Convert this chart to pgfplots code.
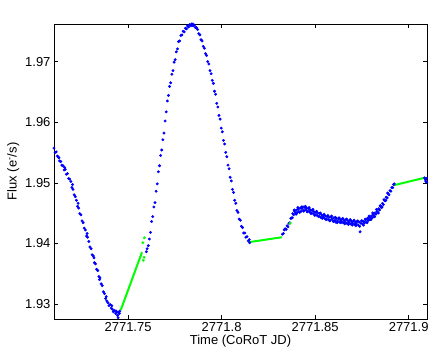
\documentclass[border=0pt]{standalone}
\usepackage{pgfplots}
\pgfplotsset{compat=1.18}
\usepackage{fontspec}
\setmainfont{Liberation Sans}
\definecolor{mgreen}{rgb}{0,1,0}
\definecolor{mblue}{rgb}{0,0,1}

\begin{document}
\begin{tikzpicture}
\begin{axis}[
  name=ax,
  scale only axis,
  width=373pt, height=295pt,
  xmin=0.7104, xmax=0.9098,
  ymin=1.9275, ymax=1.9762,
  xtick={0.75,0.8,0.85,0.9},
  xticklabels={2771.75,2771.8,2771.85,2771.9},
  ytick={1.93,1.94,1.95,1.96,1.97},
  yticklabels={1.93,1.94,1.95,1.96,1.97},
  tick align=inside,
  major tick length=4pt,
  axis line style={line width=0.6pt},
  every tick/.style={black, line width=0.4pt},
  ticklabel style={font=\fontsize{13}{15}\selectfont},
  /pgf/number format/assume math mode=true,
  xlabel={Time (CoRoT JD)},
  ylabel={Flux (e\textsuperscript{-}/s)},
  label style={font=\fontsize{13}{15}\selectfont},
  xlabel style={yshift=4pt},
  ylabel style={yshift=-1pt},
  clip=false,
]
% blue photometry points
\addplot[only marks, mark=*, mark size=1.25pt, mblue] table {
0.7104 1.9557
0.7110 1.9550
0.7116 1.9551
0.7122 1.9544
0.7128 1.9542
0.7131 1.9541
0.7134 1.9536
0.7140 1.9535
0.7146 1.9529
0.7152 1.9528
0.7158 1.9521
0.7161 1.9525
0.7164 1.9522
0.7170 1.9514
0.7176 1.9515
0.7182 1.9507
0.7188 1.9506
0.7194 1.9502
0.7200 1.9492
0.7203 1.9497
0.7206 1.9489
0.7212 1.9480
0.7218 1.9477
0.7224 1.9471
0.7230 1.9461
0.7233 1.9466
0.7236 1.9458
0.7242 1.9449
0.7248 1.9447
0.7254 1.9437
0.7260 1.9434
0.7266 1.9425
0.7272 1.9422
0.7278 1.9412
0.7281 1.9416
0.7284 1.9410
0.7290 1.9403
0.7296 1.9394
0.7302 1.9391
0.7308 1.9381
0.7314 1.9379
0.7318 1.9376
0.7320 1.9368
0.7326 1.9366
0.7332 1.9357
0.7338 1.9355
0.7344 1.9345
0.7347 1.9340
0.7350 1.9343
0.7356 1.9333
0.7362 1.9330
0.7368 1.9320
0.7374 1.9317
0.7380 1.9309
0.7383 1.9312
0.7386 1.9305
0.7392 1.9302
0.7398 1.9297
0.7404 1.9299
0.7410 1.9293
0.7413 1.9297
0.7416 1.9291
0.7422 1.9287
0.7428 1.9289
0.7434 1.9284
0.7437 1.9288
0.7440 1.9286
0.7444 1.9281
0.7447 1.9277
0.7450 1.9286
0.7453 1.9284
0.7456 1.9288
0.7598 1.9386
0.7602 1.9391
0.7608 1.9396
0.7614 1.9407
0.7620 1.9418
0.7626 1.9436
0.7632 1.9444
0.7638 1.9460
0.7644 1.9467
0.7650 1.9486
0.7656 1.9498
0.7662 1.9518
0.7668 1.9528
0.7674 1.9545
0.7680 1.9554
0.7686 1.9571
0.7692 1.9582
0.7698 1.9602
0.7704 1.9617
0.7710 1.9635
0.7716 1.9644
0.7722 1.9659
0.7728 1.9665
0.7734 1.9679
0.7740 1.9685
0.7746 1.9699
0.7752 1.9703
0.7758 1.9716
0.7764 1.9721
0.7770 1.9733
0.7776 1.9734
0.7782 1.9743
0.7788 1.9744
0.7794 1.9750
0.7800 1.9749
0.7806 1.9755
0.7812 1.9754
0.7818 1.9759
0.7824 1.9757
0.7830 1.9761
0.7836 1.9759
0.7840 1.9762
0.7842 1.9760
0.7846 1.9762
0.7848 1.9759
0.7854 1.9760
0.7860 1.9756
0.7866 1.9756
0.7872 1.9753
0.7878 1.9746
0.7884 1.9744
0.7890 1.9736
0.7896 1.9734
0.7902 1.9725
0.7908 1.9722
0.7914 1.9713
0.7920 1.9710
0.7926 1.9700
0.7932 1.9696
0.7938 1.9685
0.7944 1.9680
0.7950 1.9669
0.7956 1.9664
0.7962 1.9651
0.7968 1.9646
0.7974 1.9631
0.7980 1.9625
0.7986 1.9611
0.7992 1.9605
0.7998 1.9590
0.8004 1.9584
0.8010 1.9570
0.8016 1.9564
0.8022 1.9550
0.8028 1.9543
0.8034 1.9529
0.8040 1.9523
0.8046 1.9509
0.8052 1.9503
0.8058 1.9489
0.8064 1.9484
0.8070 1.9471
0.8076 1.9466
0.8082 1.9454
0.8088 1.9451
0.8094 1.9440
0.8100 1.9438
0.8106 1.9428
0.8112 1.9426
0.8118 1.9417
0.8124 1.9417
0.8130 1.9410
0.8136 1.9411
0.8142 1.9404
0.8148 1.9406
0.8150 1.9401
0.8325 1.9415
0.8330 1.9416
0.8335 1.9422
0.8340 1.9424
0.8345 1.9423
0.8350 1.9429
0.8355 1.9427
0.8360 1.9433
0.8365 1.9434
0.8370 1.9441
0.8375 1.9442
0.8378 1.9442
0.8380 1.9449
0.8385 1.9447
0.8388 1.9455
0.8390 1.9453
0.8395 1.9450
0.8398 1.9448
0.8400 1.9455
0.8405 1.9451
0.8408 1.9459
0.8410 1.9456
0.8415 1.9452
0.8418 1.9451
0.8420 1.9458
0.8425 1.9453
0.8428 1.9460
0.8430 1.9457
0.8435 1.9460
0.8438 1.9453
0.8440 1.9454
0.8445 1.9459
0.8448 1.9461
0.8450 1.9455
0.8455 1.9458
0.8458 1.9452
0.8460 1.9453
0.8465 1.9457
0.8468 1.9459
0.8470 1.9452
0.8475 1.9455
0.8478 1.9449
0.8480 1.9450
0.8485 1.9454
0.8488 1.9456
0.8490 1.9449
0.8495 1.9452
0.8498 1.9446
0.8500 1.9447
0.8505 1.9451
0.8508 1.9453
0.8510 1.9446
0.8515 1.9450
0.8518 1.9444
0.8520 1.9445
0.8525 1.9449
0.8528 1.9450
0.8530 1.9443
0.8535 1.9447
0.8538 1.9441
0.8540 1.9443
0.8545 1.9446
0.8548 1.9448
0.8550 1.9441
0.8555 1.9445
0.8558 1.9439
0.8560 1.9440
0.8565 1.9444
0.8568 1.9446
0.8570 1.9439
0.8575 1.9443
0.8578 1.9437
0.8580 1.9438
0.8585 1.9443
0.8588 1.9445
0.8590 1.9440
0.8595 1.9437
0.8598 1.9436
0.8600 1.9442
0.8605 1.9438
0.8608 1.9443
0.8610 1.9435
0.8615 1.9441
0.8618 1.9434
0.8620 1.9437
0.8625 1.9441
0.8628 1.9442
0.8630 1.9435
0.8635 1.9439
0.8638 1.9434
0.8640 1.9436
0.8645 1.9440
0.8648 1.9441
0.8650 1.9434
0.8655 1.9438
0.8658 1.9432
0.8660 1.9435
0.8665 1.9439
0.8668 1.9440
0.8670 1.9433
0.8675 1.9437
0.8678 1.9431
0.8680 1.9434
0.8685 1.9438
0.8688 1.9439
0.8690 1.9432
0.8695 1.9436
0.8698 1.9430
0.8700 1.9433
0.8705 1.9437
0.8708 1.9438
0.8710 1.9431
0.8715 1.9435
0.8718 1.9429
0.8720 1.9432
0.8725 1.9436
0.8728 1.9437
0.8730 1.9430
0.8735 1.9435
0.8738 1.9428
0.8740 1.9419
0.8745 1.9433
0.8748 1.9437
0.8750 1.9437
0.8755 1.9432
0.8758 1.9430
0.8760 1.9436
0.8765 1.9434
0.8768 1.9440
0.8770 1.9439
0.8775 1.9435
0.8778 1.9434
0.8780 1.9441
0.8785 1.9438
0.8788 1.9445
0.8790 1.9443
0.8795 1.9440
0.8798 1.9439
0.8800 1.9445
0.8805 1.9442
0.8808 1.9450
0.8810 1.9447
0.8815 1.9444
0.8818 1.9444
0.8820 1.9450
0.8825 1.9448
0.8828 1.9456
0.8830 1.9453
0.8835 1.9451
0.8838 1.9450
0.8840 1.9457
0.8845 1.9455
0.8848 1.9462
0.8850 1.9461
0.8855 1.9459
0.8858 1.9460
0.8860 1.9466
0.8865 1.9464
0.8868 1.9472
0.8870 1.9471
0.8875 1.9470
0.8878 1.9471
0.8880 1.9476
0.8885 1.9475
0.8888 1.9483
0.8890 1.9482
0.8895 1.9480
0.8900 1.9487
0.8905 1.9486
0.8910 1.9492
0.8915 1.9492
0.8920 1.9497
0.8923 1.9498
0.9085 1.9508
0.9089 1.9505
0.9092 1.9502
0.9095 1.9507
0.9097 1.9501
};
% green interpolated gaps
\addplot[mgreen, line width=2pt] coordinates {(0.7461,1.9290) (0.7573,1.9384) (0.7578,1.9384)};
\addplot[mgreen, line width=2pt] coordinates {(0.8149,1.9402) (0.8322,1.9410)};
\addplot[mgreen, line width=2pt] coordinates {(0.8923,1.9496) (0.9083,1.9508)};
\addplot[only marks, mark=*, mark size=1.25pt, mgreen] coordinates {
(0.7587,1.9409) (0.7579,1.9401) (0.7586,1.9377) (0.7582,1.9372) (0.8366,1.9433)};
\end{axis}
\path ([xshift=-54pt,yshift=-34pt]ax.south west) rectangle ([xshift=9pt,yshift=24pt]ax.north east);
\end{tikzpicture}
\end{document}
